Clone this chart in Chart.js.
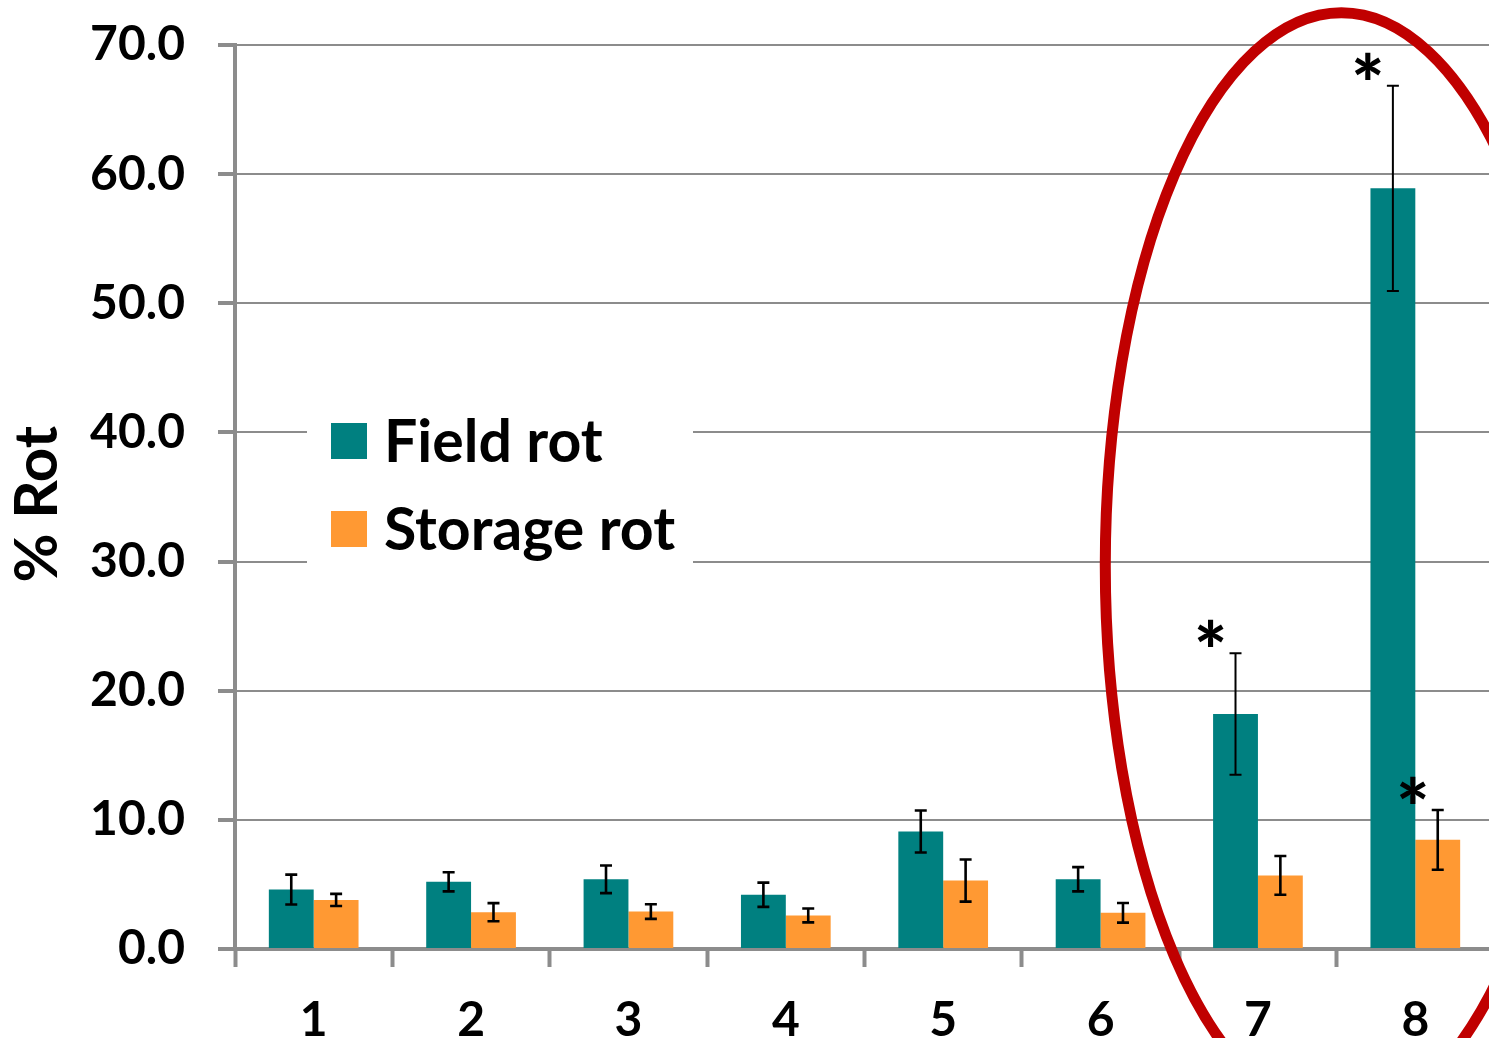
<!DOCTYPE html>
<html>
<head>
<meta charset="utf-8">
<script src="https://cdn.jsdelivr.net/npm/chart.js@4.4.1/dist/chart.umd.min.js"></script>
<style>
  html, body { margin: 0; padding: 0; background: #fff; overflow: hidden; }
  #wrap { position: relative; width: 1494px; height: 1038px; }
</style>
</head>
<body>
<div id="wrap"><canvas id="rotChart"></canvas></div>
<script>
"use strict";

// data
const categories = ["1", "2", "3", "4", "5", "6", "7", "8"];
const fieldRot = [4.6, 5.2, 5.4, 4.2, 9.1, 5.4, 18.2, 58.9];
const fieldErr = [1.16, 0.74, 1.07, 0.94, 1.63, 0.94, 4.7, 7.95];
const storageRot = [3.8, 2.85, 2.9, 2.6, 5.3, 2.8, 5.7, 8.45];
const storageErr = [0.47, 0.7, 0.57, 0.54, 1.63, 0.76, 1.5, 2.31];
// which bars get a "*" (significant)
const fieldStar = [false, false, false, false, false, false, true, true];
const storageStar = [false, false, false, false, false, false, false, true];
const yTicks = [0, 10, 20, 30, 40, 50, 60, 70];

const teal = "#008080";
const orange = "#FF9933";
const axisGray = "#8c8c8c";
const fontName = "Lato, 'Open Sans', sans-serif";

// error bars + asterisks drawn on top of the bars
const errorBars = {
  id: "errorBars",
  afterDatasetsDraw(chart) {
    const ctx = chart.ctx;
    const y = chart.scales.y;
    const errs = [fieldErr, storageErr];
    const stars = [fieldStar, storageStar];
    ctx.save();
    ctx.strokeStyle = "#000";
    chart.data.datasets.forEach(function (ds, di) {
      const meta = chart.getDatasetMeta(di);
      meta.data.forEach(function (bar, i) {
        const v = ds.data[i];
        const top = y.getPixelForValue(v + errs[di][i]);
        const bot = y.getPixelForValue(v - errs[di][i]);
        ctx.lineWidth = errs[di][i] > 3 ? 2 : 2.6;
        ctx.beginPath();
        ctx.moveTo(bar.x, top);
        ctx.lineTo(bar.x, bot);
        ctx.moveTo(bar.x - 6, top);
        ctx.lineTo(bar.x + 6, top);
        ctx.moveTo(bar.x - 6, bot);
        ctx.lineTo(bar.x + 6, bot);
        ctx.stroke();
        if (stars[di][i]) {
          ctx.fillStyle = "#000";
          ctx.font = "900 78px " + fontName;
          ctx.textAlign = "center";
          ctx.textBaseline = "alphabetic";
          ctx.fillText("*", bar.x - 25, top + 26);
        }
      });
    });
    ctx.restore();
  }
};

// legend box sitting over the grid lines
const boxLegend = {
  id: "boxLegend",
  beforeDatasetsDraw(chart) {
    const ctx = chart.ctx;
    ctx.save();
    ctx.fillStyle = "#fff";
    ctx.fillRect(307, 408, 386, 162);
    ctx.font = "bold 59px " + fontName;
    ctx.textBaseline = "middle";
    ctx.textAlign = "left";
    chart.data.datasets.forEach(function (ds, i) {
      const cy = 441 + i * 88;
      ctx.fillStyle = ds.backgroundColor;
      ctx.fillRect(331, cy - 18, 36, 36);
      ctx.fillStyle = "#000";
      ctx.fillText(ds.label, 384, cy + 2);
    });
    ctx.restore();
  }
};

// red ellipse round groups 7 and 8 (centre in scale units)
const ring = {
  id: "ring",
  afterDraw(chart) {
    const x = chart.scales.x, y = chart.scales.y;
    const step = x.getPixelForValue(1) - x.getPixelForValue(0);
    const cx = x.getPixelForValue(6) + 0.53 * step;
    const cy = y.getPixelForValue(29.7);
    const rx = 1.5 * step;
    const ry = y.getPixelForValue(0) - y.getPixelForValue(42.8);
    const ctx = chart.ctx;
    ctx.save();
    ctx.strokeStyle = "#C00000";
    ctx.lineWidth = 11;
    ctx.beginPath();
    ctx.ellipse(cx, cy, rx, ry, 0, 0, Math.PI * 2);
    ctx.stroke();
    ctx.restore();
  }
};

const data = {
  labels: categories,
  datasets: [
    { label: "Field rot", data: fieldRot, backgroundColor: teal },
    { label: "Storage rot", data: storageRot, backgroundColor: orange }
  ]
};

const config = {
  type: "bar",
  data: data,
  options: {
    responsive: true,
    maintainAspectRatio: false,
    animation: false,
    layout: { padding: { top: 45, right: 0, bottom: 0, left: 0 } },
    datasets: { bar: { barPercentage: 1, categoryPercentage: 0.57 } },
    plugins: { legend: { display: false }, tooltip: { enabled: false } },
    scales: {
      x: {
        grid: { drawOnChartArea: false, offset: true, color: axisGray, tickLength: 18, tickWidth: 4 },
        border: { color: axisGray, width: 4 },
        ticks: { color: "#000", padding: 25, font: { family: fontName, size: 48, weight: "bold" } },
        afterFit(scale) { scale.height = 89; }
      },
      y: {
        min: 0,
        max: 70,
        afterBuildTicks(scale) { scale.ticks = yTicks.map(function (v) { return { value: v }; }); },
        grid: { color: axisGray, lineWidth: 2, tickLength: 17, tickWidth: 4, tickColor: axisGray },
        border: { color: axisGray, width: 4 },
        ticks: {
          color: "#000",
          padding: 33,
          font: { family: fontName, size: 48, weight: "bold", lineHeight: 0.2 },
          callback: function (v) { return Number(v).toFixed(1); }
        },
        title: {
          display: true,
          text: "% Rot ",
          color: "#000",
          padding: { top: 2, bottom: 0 },
          font: { family: fontName, size: 60, weight: "bold" }
        },
        afterFit(scale) { scale.width = 235; }
      }
    }
  },
  plugins: [boxLegend, errorBars, ring]
};

const rotChart = new Chart(document.getElementById("rotChart"), config);
</script>
</body>
</html>
